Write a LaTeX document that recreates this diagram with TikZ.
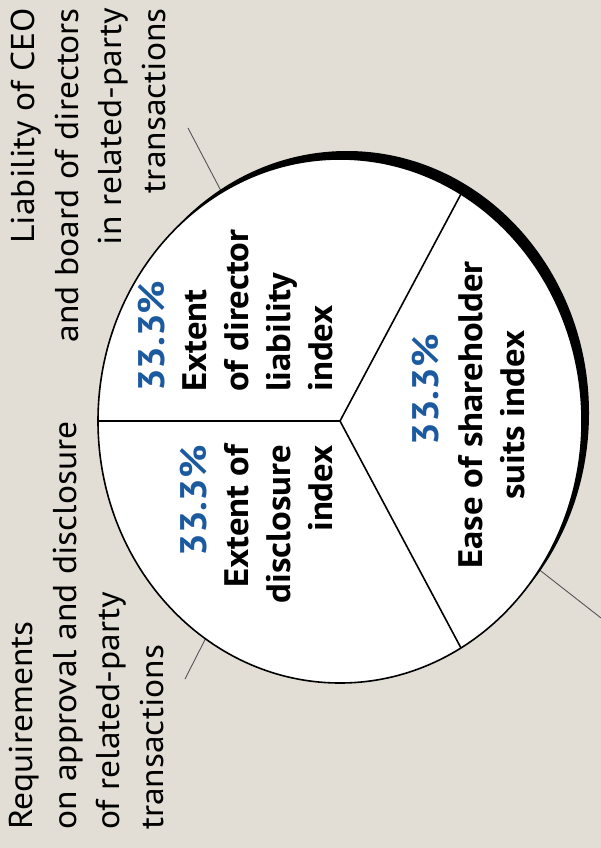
\documentclass[tikz,border=0pt]{standalone}
\usepackage{fontspec}
\setmainfont{PT Sans}[FakeStretch=1.077]
\definecolor{bg}{RGB}{226,222,214}
\definecolor{pctblue}{RGB}{28,90,160}
\definecolor{leadergray}{RGB}{85,85,85}
\begin{document}
\begin{tikzpicture}[x=1pt,y=-1pt,
  outerlabel/.style={rotate=90, inner sep=0pt, font=\fontsize{33}{43.5}\selectfont},
  slicelabel/.style={rotate=90, inner sep=0pt, font=\bfseries\fontsize{34}{42}\selectfont},
  pct/.style={text=pctblue, font=\bfseries\fontsize{37}{42}\selectfont},
  leaderline/.style={draw=leadergray, line width=0.9pt},
  divider/.style={draw=black, line width=1.6pt},
]
\path[fill=bg, use as bounding box] (0,0) rectangle (601,848);

% leader lines (inner ends hidden under the pie)
\coordinate (l1o) at (188,128); \coordinate (l1i) at (230,208);
\coordinate (l2o) at (185,679); \coordinate (l2i) at (215,620);
\coordinate (l3o) at (601,618); \coordinate (l3i) at (514,550);
\draw[leaderline] (l1o) -- (l1i);
\draw[leaderline] (l2o) -- (l2i);
\draw[leaderline] (l3o) -- (l3i);

% pie with offset shadow
\coordinate (c) at (340,421);
\coordinate (sh) at (347,413);
\fill[black] (sh) ellipse [x radius=242pt, y radius=262pt];
\filldraw[fill=white, draw=black, line width=1.6pt] (c) ellipse [x radius=242pt, y radius=262pt];

\coordinate (d180) at (98,421);
\coordinate (d60) at (461,194);
\coordinate (d300) at (461,648);
\draw[divider] (c) -- (d180);
\draw[divider] (c) -- (d60);
\draw[divider] (c) -- (d300);

% outer labels
\node[outerlabel, anchor=base east, align=right] (lab1) at (165,8)
  {Liability of CEO\\and board of directors\\in related-party\\transactions};
\node[outerlabel, anchor=base west, align=left] (lab2) at (163,830)
  {Requirements\\on approval and disclosure\\of related-party\\transactions};

% slice labels
\node[slicelabel, anchor=base west, align=left] (s1) at (332,392)
  {\textcolor{pctblue}{\fontsize{37}{42}\selectfont 33.3\%}\\Extent\\of director\\liability\\index};
\node[slicelabel, anchor=base east, align=right] (s2) at (332,445)
  {\textcolor{pctblue}{\fontsize{37}{42}\selectfont 33.3\%}\\Extent of\\disclosure\\index};
\node[rotate=90, inner sep=0pt, pct, anchor=base] (p3) at (438,390) {33.3\%};
\node[slicelabel, anchor=base, align=center] (s3) at (524,415)
  {Ease of shareholder\\suits index};
\end{tikzpicture}
\end{document}
